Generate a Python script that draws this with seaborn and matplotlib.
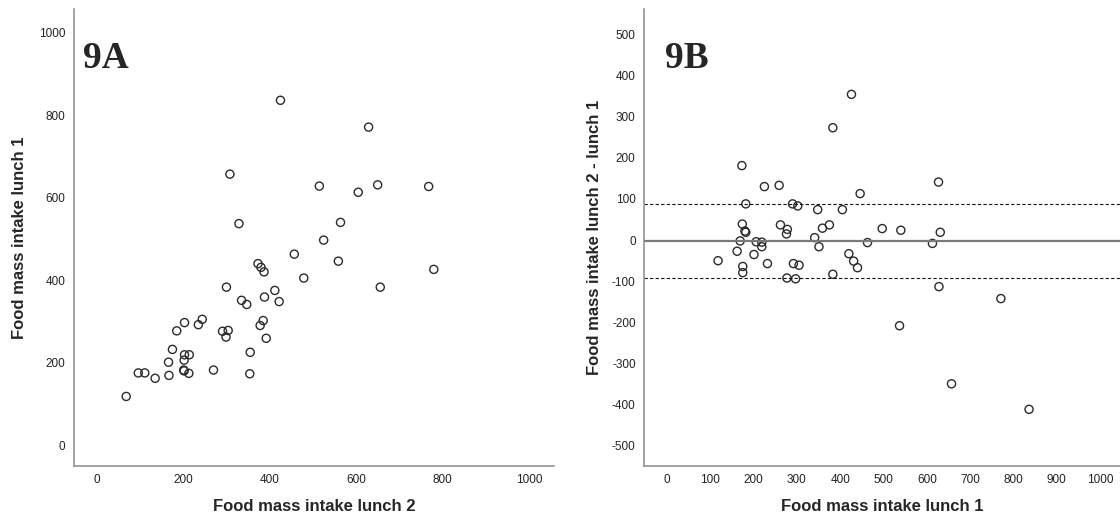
import numpy as np
import pandas as pd
import matplotlib
matplotlib.use("Agg")
import matplotlib.pyplot as plt
import seaborn as sns

# Food mass intake (g) per participant at the two lunches
lunch1 = [118, 173, 182, 174, 180, 182, 169, 162, 175, 175,
          206, 219, 219, 201, 225, 232, 259, 262, 278, 276,
          277, 290, 302, 292, 305, 297, 348, 341, 351, 359,
          375, 383, 405, 420, 431, 440, 426, 383, 446, 497,
          540, 631, 627, 463, 613, 628, 771, 537, 657, 836]
lunch2 = [68, 354, 270, 213, 202, 201, 167, 135, 111, 96,
          202, 214, 203, 166, 355, 175, 392, 299, 304, 291,
          185, 378, 385, 235, 244, 203, 422, 347, 335, 388,
          412, 300, 479, 387, 380, 373, 780, 656, 559, 525,
          564, 650, 768, 457, 605, 515, 629, 329, 308, 425]

# Agreement band drawn around the mean difference
limit_half_width = 89

tick_a = [0, 200, 400, 600, 800, 1000]
tick_bx = [0, 100, 200, 300, 400, 500, 600, 700, 800, 900, 1000]
tick_by = [500, 400, 300, 200, 100, 0, -100, -200, -300, -400, -500]

df = pd.DataFrame({"lunch1": lunch1, "lunch2": lunch2})
df["diff"] = df["lunch2"] - df["lunch1"]
mean_diff = df["diff"].mean()

sns.set_style("white")
plt.rcParams["font.family"] = ["Liberation Sans", "DejaVu Sans"]
plt.rcParams["axes.unicode_minus"] = False

fig = plt.figure(figsize=(11.2, 5.22), dpi=100)
ax_a = fig.add_axes([0.066, 0.107, 0.4286, 0.8755])
ax_b = fig.add_axes([0.575, 0.107, 0.425, 0.8755])

marker_kw = dict(s=34, facecolor="none", edgecolor="#2b2b2b", linewidth=1.0)

sns.scatterplot(data=df, x="lunch2", y="lunch1", ax=ax_a, **marker_kw)
sns.scatterplot(data=df, x="lunch1", y="diff", ax=ax_b, **marker_kw)

ax_b.axhline(mean_diff, color="#7a7a7a", linewidth=1.6, zorder=1)
for lim in (mean_diff + limit_half_width, mean_diff - limit_half_width):
    ax_b.axhline(lim, color="#111111", linewidth=0.8, linestyle=(0, (3, 2)), zorder=1)

ax_a.set_xlim(-53, 1058)
ax_a.set_ylim(-51, 1057)
ax_a.set_xticks(tick_a)
ax_a.set_yticks(tick_a)

ax_b.set_xlim(-53, 1046)
ax_b.set_ylim(-549, 561)
ax_b.set_xticks(tick_bx)
ax_b.set_yticks(tick_by)

for ax in (ax_a, ax_b):
    sns.despine(ax=ax)
    for side in ("left", "bottom"):
        ax.spines[side].set_color("#8a8a8a")
        ax.spines[side].set_linewidth(1.1)
    ax.tick_params(axis="both", length=0, pad=6, labelsize=8.5, labelcolor="#222222")

ax_a.set_xlabel("Food mass intake lunch 2", fontsize=12, fontweight="bold", labelpad=9)
ax_a.set_ylabel("Food mass intake lunch 1", fontsize=12, fontweight="bold", labelpad=9)
ax_b.set_xlabel("Food mass intake lunch 1", fontsize=12, fontweight="bold", labelpad=9)
ax_b.set_ylabel("Food mass intake lunch 2 - lunch 1", fontsize=12, fontweight="bold", labelpad=7)

ax_a.text(0.018, 0.892, "9A", transform=ax_a.transAxes, fontsize=27, fontweight="bold",
          family="Liberation Serif", va="center", ha="left")
ax_b.text(0.044, 0.892, "9B", transform=ax_b.transAxes, fontsize=27, fontweight="bold",
          family="Liberation Serif", va="center", ha="left")

fig.savefig("out.png", dpi=100)
